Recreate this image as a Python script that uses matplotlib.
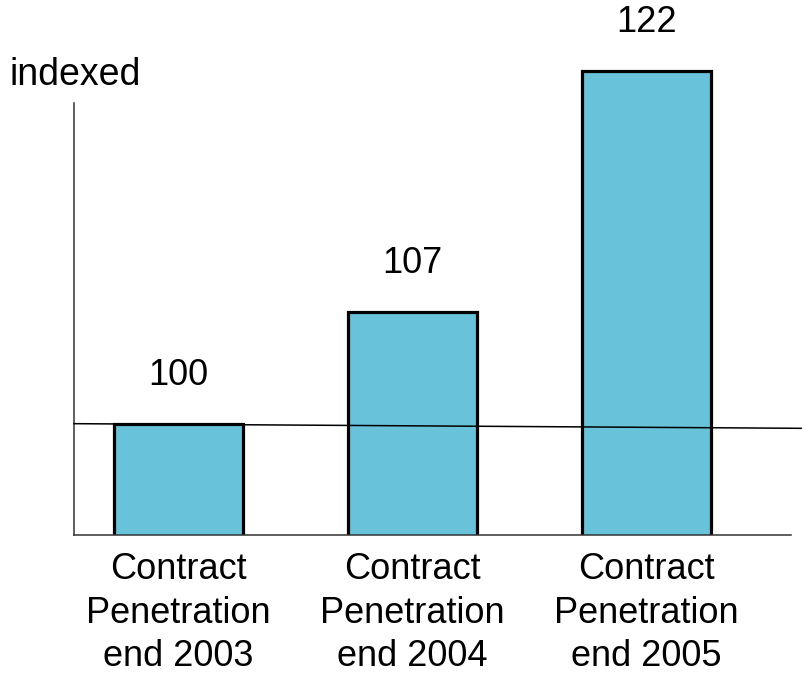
import matplotlib
matplotlib.use("Agg")
import matplotlib.pyplot as plt

plt.rcParams['font.family'] = ['Liberation Sans', 'DejaVu Sans']

categories = ["Contract\nPenetration\nend 2003",
              "Contract\nPenetration\nend 2004",
              "Contract\nPenetration\nend 2005"]
values = [100, 107, 122]
reference_level = 100
axis_label = "indexed"

W, H = 803, 678
fig = plt.figure(figsize=(W / 100, H / 100), dpi=100)

# axes box in pixels: x 74..791, y bottom 535, y top ~39
left_px, right_px, bottom_px, top_px = 74, 791, 535, 39
ax = fig.add_axes([left_px / W, 1 - bottom_px / H,
                   (right_px - left_px) / W, (bottom_px - top_px) / H])

x = list(range(len(values)))
ax.bar(x, values, width=0.55, color="#68C3DA", edgecolor="black",
       linewidth=2.3, zorder=2)

ymin, ymax = 93.08, 124.0
ax.set_ylim(ymin, ymax)
ax.set_xlim(-0.447, 2.618)

# reference line at the base index, running past the right edge
ax.plot([-0.447, 2.669], [reference_level + 0.02, reference_level - 0.27],
        color="black", linewidth=1.1, clip_on=False, zorder=3)

for xi, v in zip(x, values):
    ax.annotate(str(v), (xi, v), xytext=(0, 35), textcoords="offset points",
                ha="center", va="center", fontsize=26)

ax.set_xticks(x)
ax.set_xticklabels(categories, fontsize=26, linespacing=1.33)
ax.tick_params(axis="x", length=0, pad=12)
ax.set_yticks([])

for s in ("top", "right"):
    ax.spines[s].set_visible(False)
ax.spines["left"].set_bounds(ymin, 120.0)
ax.spines["left"].set_linewidth(1.1)
ax.spines["bottom"].set_linewidth(1.1)
ax.spines["left"].set_color("#333333")
ax.spines["bottom"].set_color("#333333")

fig.text(10 / W, 1 - 75 / H, axis_label, fontsize=27, ha="left", va="center")

fig.savefig("out.png", dpi=100)
